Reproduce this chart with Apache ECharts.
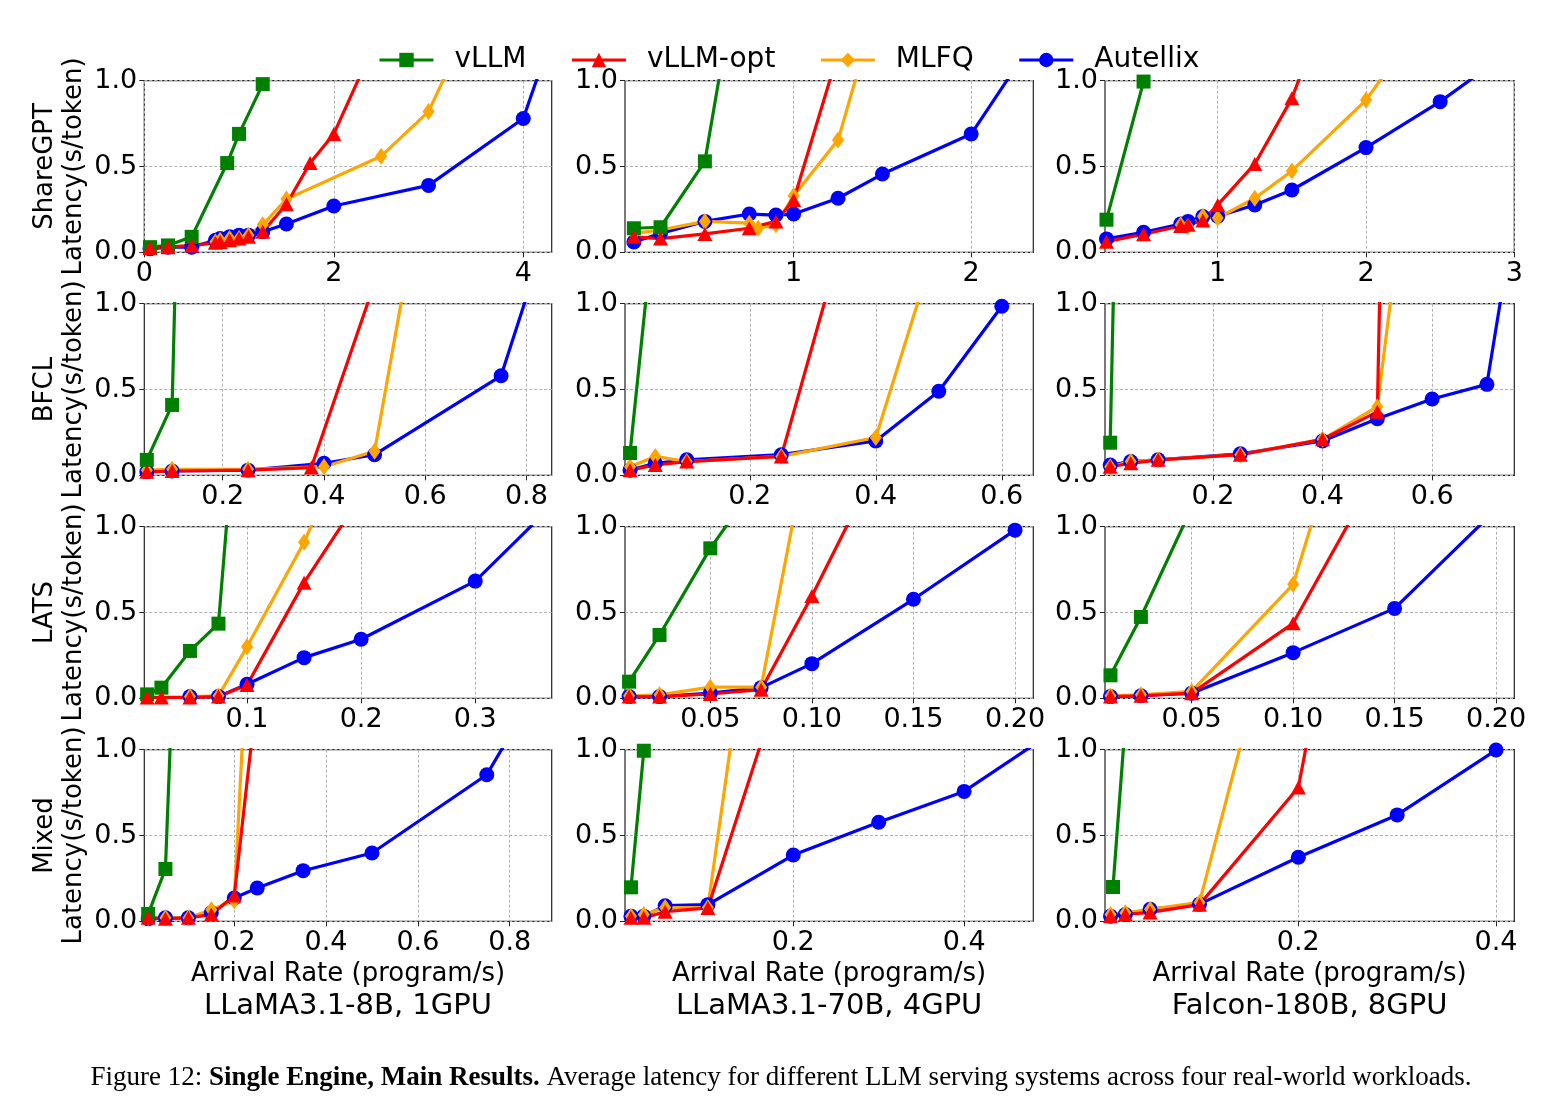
<!DOCTYPE html>
<html><head><meta charset="utf-8">
<script src="https://cdn.jsdelivr.net/npm/echarts@6/dist/echarts.min.js"></script>
<style>html,body{margin:0;padding:0;background:#fff}#c{width:1560px;height:1117px}</style>
</head><body><div id="c"></div>
<script>
// ---------------- data ----------------
const systems = ['vLLM', 'vLLM-opt', 'MLFQ', 'Autellix'];
const workloads = ['ShareGPT', 'BFCL', 'LATS', 'Mixed'];
const models = ['LLaMA3.1-8B, 1GPU', 'LLaMA3.1-70B, 4GPU', 'Falcon-180B, 8GPU'];
const xTitle = 'Arrival Rate (program/s)';
const yTitle = 'Latency(s/token)';
const yTicks = [0, 0.5, 1.0];

// each panel: [vLLM, vLLM-opt, MLFQ, Autellix], points [rate, latency]
const ShareGPT_8B = [
  [[0.06,0.03],[0.25,0.04],[0.5,0.09],[0.875,0.52],[1.0,0.69],[1.25,0.98]],
  [[0.06,0.025],[0.25,0.03],[0.5,0.04],[0.75,0.055],[0.8,0.06],[0.9,0.07],[1.0,0.08],[1.1,0.09],[1.25,0.12],[1.5,0.28],[1.75,0.52],[2.0,0.69],[2.5,1.3]],
  [[0.75,0.06],[0.8,0.07],[0.9,0.08],[1.0,0.08],[1.1,0.1],[1.25,0.16],[1.5,0.31],[2.5,0.56],[3.0,0.82],[3.5,1.41]],
  [[0.06,0.02],[0.25,0.03],[0.5,0.03],[0.75,0.07],[0.8,0.08],[0.9,0.09],[1.0,0.1],[1.1,0.1],[1.25,0.12],[1.5,0.165],[2.0,0.27],[3.0,0.39],[4.0,0.78],[4.5,1.58]]
];
const ShareGPT_70B = [
  [[0.1,0.14],[0.25,0.146],[0.5,0.53],[0.75,2.04]],
  [[0.1,0.09],[0.25,0.08],[0.5,0.107],[0.75,0.14],[0.9,0.18],[1.0,0.305],[1.25,1.16]],
  [[0.1,0.11],[0.25,0.13],[0.5,0.18],[0.75,0.17],[0.8,0.14],[0.9,0.16],[1.0,0.33],[1.25,0.654],[1.5,1.55]],
  [[0.1,0.06],[0.25,0.11],[0.5,0.18],[0.75,0.223],[0.9,0.217],[1.0,0.223],[1.25,0.315],[1.5,0.456],[2.0,0.689],[2.25,1.077]]
];
const ShareGPT_180B = [
  [[0.25,0.19],[0.5,0.995],[0.75,3.0]],
  [[0.25,0.062],[0.5,0.105],[0.75,0.153],[0.8,0.16],[0.9,0.185],[1.0,0.276],[1.25,0.515],[1.5,0.897],[1.75,1.47]],
  [[0.75,0.16],[0.8,0.15],[0.9,0.21],[1.0,0.2],[1.25,0.315],[1.5,0.474],[2.0,0.887],[2.5,1.49]],
  [[0.25,0.078],[0.5,0.117],[0.75,0.165],[0.8,0.18],[0.9,0.208],[1.0,0.21],[1.25,0.276],[1.5,0.363],[2.0,0.61],[2.5,0.878],[3.0,1.19]]
];
const BFCL_8B = [
  [[0.05,0.09],[0.1,0.41],[0.15,6.3]],
  [[0.05,0.02],[0.1,0.025],[0.25,0.03],[0.375,0.045],[0.5,1.12]],
  [[0.05,0.03],[0.1,0.035],[0.25,0.035],[0.4,0.05],[0.5,0.14],[0.6,1.79]],
  [[0.05,0.02],[0.1,0.025],[0.25,0.03],[0.4,0.07],[0.5,0.12],[0.75,0.58],[0.9,1.95]]
];
const BFCL_70B = [
  [[0.01,0.13],[0.05,1.55]],
  [[0.01,0.03],[0.05,0.06],[0.1,0.08],[0.25,0.11],[0.4,2.07]],
  [[0.01,0.05],[0.05,0.11],[0.1,0.08],[0.25,0.11],[0.4,0.22],[0.5,1.4]],
  [[0.01,0.03],[0.05,0.07],[0.1,0.09],[0.25,0.12],[0.4,0.2],[0.5,0.49],[0.6,0.985]]
];
const BFCL_180B = [
  [[0.0125,0.19],[0.05,5.7]],
  [[0.0125,0.05],[0.05,0.07],[0.1,0.09],[0.25,0.12],[0.4,0.21],[0.5,0.37],[0.6,16]],
  [[0.0125,0.05],[0.05,0.08],[0.1,0.09],[0.25,0.12],[0.4,0.21],[0.5,0.4],[0.6,2.95]],
  [[0.0125,0.06],[0.05,0.08],[0.1,0.09],[0.25,0.125],[0.4,0.2],[0.5,0.33],[0.6,0.445],[0.7,0.53],[0.75,1.51]]
];
const LATS_8B = [
  [[0.0125,0.023],[0.025,0.062],[0.05,0.276],[0.075,0.435],[0.1,2.46]],
  [[0.0125,0.005],[0.025,0.005],[0.05,0.005],[0.075,0.01],[0.1,0.078],[0.15,0.674],[0.2,1.18]],
  [[0.05,0.01],[0.075,0.015],[0.1,0.3],[0.15,0.91],[0.2,1.66]],
  [[0.05,0.01],[0.075,0.01],[0.1,0.082],[0.15,0.237],[0.2,0.344],[0.3,0.683],[0.35,1.01]]
];
const LATS_70B = [
  [[0.01,0.097],[0.025,0.369],[0.05,0.874],[0.075,1.29]],
  [[0.01,0.01],[0.025,0.01],[0.05,0.025],[0.075,0.05],[0.1,0.596],[0.15,1.78]],
  [[0.01,0.015],[0.025,0.02],[0.05,0.065],[0.075,0.065],[0.1,1.6]],
  [[0.01,0.01],[0.025,0.01],[0.05,0.03],[0.075,0.062],[0.1,0.202],[0.15,0.577],[0.2,0.98]]
];
const LATS_180B = [
  [[0.01,0.134],[0.025,0.474],[0.05,1.11]],
  [[0.01,0.01],[0.025,0.015],[0.05,0.03],[0.1,0.437],[0.15,1.5]],
  [[0.01,0.015],[0.025,0.02],[0.05,0.04],[0.1,0.664],[0.15,2.6]],
  [[0.01,0.01],[0.025,0.015],[0.05,0.03],[0.1,0.266],[0.15,0.524],[0.2,1.1]]
];
const Mixed_8B = [
  [[0.0125,0.043],[0.05,0.305],[0.1,3.76]],
  [[0.0125,0.02],[0.05,0.015],[0.1,0.02],[0.15,0.039],[0.2,0.15],[0.25,1.34]],
  [[0.0125,0.02],[0.05,0.02],[0.1,0.02],[0.15,0.068],[0.2,0.12],[0.25,2.73]],
  [[0.0125,0.015],[0.05,0.02],[0.1,0.02],[0.15,0.05],[0.2,0.136],[0.25,0.194],[0.35,0.295],[0.5,0.398],[0.75,0.854],[0.85,1.31]]
];
const Mixed_70B = [
  [[0.01,0.198],[0.025,0.994],[0.05,3.0]],
  [[0.01,0.02],[0.025,0.02],[0.05,0.056],[0.1,0.078],[0.2,1.62]],
  [[0.01,0.03],[0.025,0.04],[0.05,0.08],[0.1,0.08],[0.2,3.62]],
  [[0.01,0.03],[0.025,0.03],[0.05,0.091],[0.1,0.097],[0.2,0.386],[0.3,0.577],[0.4,0.757],[0.5,1.09]]
];
const Mixed_180B = [
  [[0.0125,0.2],[0.025,1.16]],
  [[0.01,0.03],[0.025,0.04],[0.05,0.052],[0.1,0.097],[0.2,0.78],[0.3,3.8]],
  [[0.01,0.04],[0.025,0.05],[0.05,0.07],[0.1,0.11],[0.2,2.31]],
  [[0.01,0.03],[0.025,0.04],[0.05,0.07],[0.1,0.1],[0.2,0.373],[0.3,0.62],[0.4,0.998]]
];

// x axis ticks / ranges per panel [row][col]
const xTicks = [
  [[0,2,4],[1,2],[1,2,3]],
  [[0.2,0.4,0.6,0.8],[0.2,0.4,0.6],[0.2,0.4,0.6]],
  [[0.1,0.2,0.3],[0.05,0.10,0.15,0.20],[0.05,0.10,0.15,0.20]],
  [[0.2,0.4,0.6,0.8],[0.2,0.4],[0.2,0.4]]
];
const xDecimals = [[0,0,0],[1,1,1],[1,2,2],[1,1,1]];
const xMin = [[0,0.05,0.24],[0.045,0.002,0.003],[0.01,0.008,0.0073],[0.004,0.003,0.0044]];
const xMax = [[4.3,2.35,3.0],[0.85,0.65,0.75],[0.367,0.209,0.209],[0.8915,0.481,0.4185]];

const panels = [
  [ShareGPT_8B, ShareGPT_70B, ShareGPT_180B],
  [BFCL_8B, BFCL_70B, BFCL_180B],
  [LATS_8B, LATS_70B, LATS_180B],
  [Mixed_8B, Mixed_70B, Mixed_180B]
];

// ---------------- layout / style ----------------
const FONT = 'DejaVu Sans';
const colLeft = [144.3, 625, 1105];
const colWidth = [407.4, 408.3, 409.3];
const rowTop = [80.7, 303.7, 526.7, 749.7];
const rowHeight = 171.6;
const colors = ['#008000', '#ff0000', '#ffa500', '#0000ff'];
const symbolTypes = ['rect', 'triangle', 'diamond', 'circle'];
const symbolSizes = [14, [15, 14], [12, 17], 15];
const drawOrder = [3, 2, 0, 1];

const grids = [], xAxes = [], yAxes = [], series = [];
for (let r = 0; r < 4; r++) {
  for (let c = 0; c < 3; c++) {
    const k = r * 3 + c;
    grids.push({
      left: colLeft[c], top: rowTop[r], width: colWidth[c], height: rowHeight,
      show: true, borderColor: '#222', borderWidth: 1.2, backgroundColor: 'transparent',
      containLabel: false, outerBoundsMode: 'none'
    });
    const dec = xDecimals[r][c];
    xAxes.push({
      type: 'value', gridIndex: k, min: xMin[r][c], max: xMax[r][c],
      axisLine: { show: false, onZero: false },
      axisTick: { show: true, customValues: xTicks[r][c], length: 5, lineStyle: { color: '#222', width: 1 } },
      axisLabel: { customValues: xTicks[r][c], formatter: v => Number(v).toFixed(dec),
        fontSize: 27, fontFamily: FONT, color: '#000', margin: 8 },
      splitLine: { show: true, lineStyle: { color: '#b0b0b0', type: [3, 2], width: 1 } },
      name: r === 3 ? xTitle : '', nameLocation: 'middle', nameGap: 40,
      nameTextStyle: { fontSize: 26, fontFamily: FONT, color: '#000' }
    });
    yAxes.push({
      type: 'value', gridIndex: k, min: 0, max: 1, interval: 0.5,
      axisLine: { show: false, onZero: false },
      axisTick: { show: true, length: 5, lineStyle: { color: '#222', width: 1 } },
      axisLabel: { formatter: v => Number(v).toFixed(1), fontSize: 27, fontFamily: FONT, color: '#000', margin: 7 },
      splitLine: { show: true, lineStyle: { color: '#b0b0b0', type: [3, 2], width: 1 } },
      name: c === 0 ? workloads[r] + '\n' + yTitle : '',
      nameLocation: 'middle', nameRotate: 90, nameGap: 56,
      nameTextStyle: { fontSize: 26, lineHeight: 29, fontFamily: FONT, color: '#000', align: 'center' }
    });
    const panel = panels[r][c];
    drawOrder.forEach(s => {
      series.push({
        type: 'line', name: systems[s], xAxisIndex: k, yAxisIndex: k,
        data: panel[s], clip: true,
        symbol: symbolTypes[s], symbolSize: symbolSizes[s],
        itemStyle: { color: colors[s] },
        lineStyle: { color: colors[s], width: 3.2 },
        emphasis: { disabled: true }, animation: false, silent: true
      });
    });
  }
}

const graphics = models.map((m, c) => ({
  type: 'text', x: colLeft[c] + colWidth[c] / 2, y: 1006,
  style: { text: m, fontSize: 29, fontFamily: FONT, fill: '#000', align: 'center', verticalAlign: 'middle' }
}));
graphics.push({
  type: 'text', x: 781, y: 1078,
  style: {
    text: '{n|Figure 12: }{b|Single Engine, Main Results.}{n| Average latency for different LLM serving systems across four real-world workloads.}',
    rich: {
      n: { fontFamily: 'Liberation Serif', fontSize: 27, fill: '#000' },
      b: { fontFamily: 'Liberation Serif', fontSize: 27, fontWeight: 'bold', fill: '#000' }
    },
    align: 'center', verticalAlign: 'middle'
  }
});

const chart = echarts.init(document.getElementById('c'));
chart.setOption({
  backgroundColor: '#fff',
  animation: false,
  legend: {
    data: systems, left: 373, top: 41, itemWidth: 54, itemHeight: 18, itemGap: 44,
    lineStyle: { width: 3 },
    textStyle: { fontSize: 28, fontFamily: FONT, color: '#000', padding: [0, 0, 0, 16] },
    selectedMode: false
  },
  grid: grids, xAxis: xAxes, yAxis: yAxes, series: series, graphic: graphics
});
</script></body></html>
